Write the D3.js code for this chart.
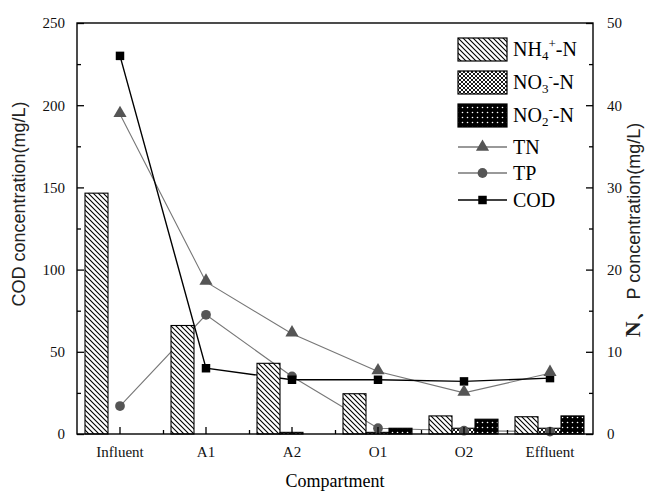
<!DOCTYPE html>
<html><head><meta charset="utf-8">
<script src="https://cdn.jsdelivr.net/npm/d3@7"></script>
<style>body{margin:0;background:#fff}svg{display:block}</style>
</head><body>
<svg id="c" width="646" height="493"></svg>
<script>
const categories = ["Influent","A1","A2","O1","O2","Effluent"];
const nh4 = [29.3, 13.2, 8.6, 4.9, 2.2, 2.1];
const no3 = [0, 0, 0.2, 0.2, 0.7, 0.7];
const no2 = [0, 0, 0, 0.7, 1.8, 2.2];
const tn  = [38.9, 18.5, 12.2, 7.6, 5.0, 7.4];
const tp  = [3.4, 14.5, 7.0, 0.7, 0.4, 0.3];
const cod = [230, 40, 33, 33, 32, 34];
const leftTicks = [0,50,100,150,200,250];
const rightTicks = [0,10,20,30,40,50];

const svg = d3.select("#c");
const L=77, R=593, T=23, B=434;
const x = d3.scaleBand().domain(categories).range([L,R]).padding(0);
const yL = d3.scaleLinear().domain([0,250]).range([B,T]);
const yR = d3.scaleLinear().domain([0,50]).range([B,T]);
const keys = ["nh4","no3","no2"];
const xs = d3.scaleBand().domain(keys).range([-35,34]).padding(0);
const serif = "'Liberation Serif','Times New Roman',serif";

// patterns
const defs = svg.append("defs");
const p1 = defs.append("pattern").attr("id","pNH4").attr("patternUnits","userSpaceOnUse").attr("width",5).attr("height",5);
p1.append("rect").attr("width",5).attr("height",5).attr("fill","#fff");
p1.append("path").attr("d","M0,0L5,5M-1,4L1,6M4,-1L6,1").attr("stroke","#000").attr("stroke-width",1.1);
const p2 = defs.append("pattern").attr("id","pNO3").attr("patternUnits","userSpaceOnUse").attr("width",4).attr("height",4);
p2.append("rect").attr("width",4).attr("height",4).attr("fill","#fff");
p2.append("path").attr("d","M0,0L4,4M4,0L0,4").attr("stroke","#000").attr("stroke-width",0.9);
const p3 = defs.append("pattern").attr("id","pNO2").attr("patternUnits","userSpaceOnUse").attr("width",5).attr("height",5);
p3.append("rect").attr("width",5).attr("height",5).attr("fill","#000");
p3.append("circle").attr("cx",2.5).attr("cy",2.5).attr("r",0.8).attr("fill","#fff");
const fills = {nh4:"url(#pNH4)", no3:"url(#pNO3)", no2:"url(#pNO2)"};
const vals = {nh4, no3, no2};

// lines
const lineL = d3.line().x((d,i)=>x(categories[i])+x.bandwidth()/2).y(d=>yL(d));
const lineR = d3.line().x((d,i)=>x(categories[i])+x.bandwidth()/2).y(d=>yR(d));
const cx = i => x(categories[i])+x.bandwidth()/2;

svg.append("path").attr("d",lineR(tn)).attr("fill","none").attr("stroke","#777").attr("stroke-width",1.1);
svg.append("path").attr("d",lineR(tp)).attr("fill","none").attr("stroke","#777").attr("stroke-width",1.1);
svg.append("path").attr("d",lineL(cod)).attr("fill","none").attr("stroke","#000").attr("stroke-width",1.4);

const tri = d3.symbol().type(d3.symbolTriangle).size(75);
const circ = d3.symbol().type(d3.symbolCircle).size(75);
const sq = d3.symbol().type(d3.symbolSquare).size(72);

// bars
keys.forEach(k=>{
  svg.append("g").selectAll("rect").data(vals[k]).join("rect")
    .attr("x",(d,i)=>cx(i)+xs(k)).attr("width",xs.bandwidth())
    .attr("y",d=>yR(d)).attr("height",d=>B-yR(d))
    .attr("fill",fills[k]).attr("stroke",d=>d>0?"#000":"none").attr("stroke-width",1.1);
});

svg.append("g").selectAll("path").data(tp).join("path").attr("d",circ)
  .attr("transform",(d,i)=>`translate(${cx(i)},${yR(d)})`).attr("fill","#555");
svg.append("g").selectAll("path").data(cod).join("path").attr("d",sq)
  .attr("transform",(d,i)=>`translate(${cx(i)},${yL(d)})`).attr("fill","#000");
svg.append("g").selectAll("path").data(tn).join("path").attr("d",tri)
  .attr("transform",(d,i)=>`translate(${cx(i)},${yR(d)-1})`).attr("fill","#555");

// frame
svg.append("rect").attr("x",L).attr("y",T).attr("width",R-L).attr("height",B-T)
  .attr("fill","none").attr("stroke","#000").attr("stroke-width",1.4);

// axes
const axL = d3.axisLeft(yL).tickValues(leftTicks).tickSize(-7).tickPadding(12).tickFormat(d3.format("d"));
svg.append("g").attr("transform",`translate(${L},0)`).call(axL);
const axLm = d3.axisLeft(yL).tickValues([25,75,125,175,225]).tickSize(-4).tickFormat("");
svg.append("g").attr("transform",`translate(${L},0)`).call(axLm);
const axR = d3.axisRight(yR).tickValues(rightTicks).tickSize(-7).tickPadding(14).tickFormat(d3.format("d"));
svg.append("g").attr("transform",`translate(${R},0)`).call(axR);
const axRm = d3.axisRight(yR).tickValues([5,15,25,35,45]).tickSize(-4).tickFormat("");
svg.append("g").attr("transform",`translate(${R},0)`).call(axRm);
const axB = d3.axisBottom(x).tickSize(-7).tickPadding(12);
svg.append("g").attr("transform",`translate(0,${B})`).call(axB);
const axBm = d3.axisBottom(d3.scaleLinear().domain([0,6]).range([L,R])).tickValues([1,2,3,4,5]).tickSize(-4).tickFormat("");
svg.append("g").attr("transform",`translate(0,${B})`).call(axBm);
svg.selectAll(".domain").remove();
svg.selectAll(".tick line").attr("stroke","#000").attr("stroke-width",1.3);
svg.selectAll(".tick text").attr("font-family",serif).attr("font-size",15).attr("fill","#111");

// axis titles
svg.append("text").attr("transform","translate(25,204) rotate(-90)").attr("text-anchor","middle")
  .attr("font-family","'Liberation Sans',Arial,sans-serif").attr("font-size",18).attr("fill","#222")
  .text("COD concentration(mg/L)");
const rt = svg.append("text").attr("transform","translate(640,230) rotate(-90)").attr("text-anchor","middle")
  .attr("font-family","'Liberation Sans',Arial,sans-serif").attr("font-size",18).attr("fill","#222");
rt.append("tspan").attr("font-size",22).attr("font-family",serif).attr("font-weight","bold").text("N、");
rt.append("tspan").text("P concentration(mg/L)");
svg.append("text").attr("x",335).attr("y",487).attr("text-anchor","middle")
  .attr("font-family",serif).attr("font-size",18).attr("fill","#000").text("Compartment");

// legend
const lg = svg.append("g");
const lx0 = 458, lx1 = 507, tx = 513;
const legBars = [{k:"nh4",y:38,base:"NH",sub:"4",sup:"+"},{k:"no3",y:71,base:"NO",sub:"3",sup:"-"},{k:"no2",y:104,base:"NO",sub:"2",sup:"-"}];
legBars.forEach(b=>{
  lg.append("rect").attr("x",lx0).attr("y",b.y).attr("width",lx1-lx0).attr("height",23)
    .attr("fill",fills[b.k]).attr("stroke","#000").attr("stroke-width",1.2);
  const t = lg.append("text").attr("x",tx).attr("y",b.y+18).attr("font-family",serif).attr("font-size",20).attr("fill","#000");
  t.append("tspan").text(b.base);
  t.append("tspan").attr("font-size",13).attr("dy",4).text(b.sub);
  t.append("tspan").attr("font-size",13).attr("dy",-12).text(b.sup);
  t.append("tspan").attr("dy",8).text("-N");
});
const legLines = [{n:"TN",y:147,c:"#777",m:tri,mc:"#555"},{n:"TP",y:173,c:"#777",m:circ,mc:"#555"},{n:"COD",y:200,c:"#000",m:sq,mc:"#000"}];
legLines.forEach(l=>{
  lg.append("line").attr("x1",lx0).attr("x2",lx1).attr("y1",l.y).attr("y2",l.y).attr("stroke",l.c).attr("stroke-width",1.3);
  lg.append("path").attr("d",l.m).attr("transform",`translate(${(lx0+lx1)/2},${l.y})`).attr("fill",l.mc);
  lg.append("text").attr("x",tx).attr("y",l.y+7).attr("font-family",serif).attr("font-size",20).attr("fill","#000").text(l.n);
});
</script>
</body></html>
